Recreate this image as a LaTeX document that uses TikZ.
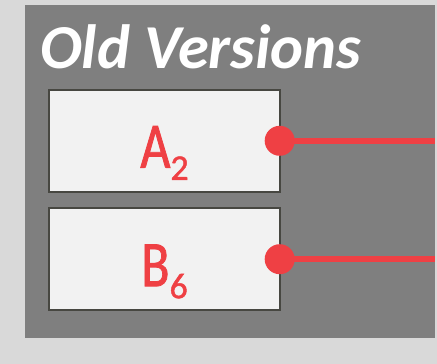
\documentclass[tikz,border=0pt]{standalone}
\usepackage{fontspec}
\setmainfont{Carlito}
\newfontfamily\verfont[FakeStretch=0.8,FakeBold=1.2]{Carlito}
\newfontfamily\subfont[FakeBold=1.2]{Carlito}
\usepackage{tikz}

\definecolor{bggray}{HTML}{D9D9D9}
\definecolor{panelgray}{HTML}{7F7F7F}
\definecolor{boxfill}{HTML}{F2F2F2}
\definecolor{boxline}{HTML}{474741}
\definecolor{vred}{HTML}{EF4044}

\begin{document}
\begin{tikzpicture}[x=1pt,y=-1pt,every node/.style={inner sep=0pt,outer sep=0pt},
	panel/.style={fill=panelgray,minimum width=410pt,minimum height=332.5pt},
	verbox/.style={draw=boxline,line width=2.2pt,fill=boxfill,minimum width=230.4pt,minimum height=101.7pt},
	verlabel/.style={vred,anchor=base},
	ptr/.style={vred,line width=5.5pt}]
	\fill[bggray] (0,0) rectangle (437,364);
	\useasboundingbox (0,0) rectangle (437,364);

	\node[panel] (panel) at (230,171.25) {};
	\node[white,anchor=base west] (title) at (40,68.5)
		{\fontsize{62.5}{62.5}\selectfont\bfseries\itshape Old Versions};

%	boxes for the two old versions
	\node[verbox] (verA) at (164.5,140.8) {};
	\node[verbox] (verB) at (164.5,259.2) {};
	\node[verlabel] (labA) at ([yshift=-27pt]verA.center)
		{{\verfont\fontsize{65}{65}\selectfont A}\raisebox{-12pt}{\subfont\fontsize{36}{36}\selectfont 2}};
	\node[verlabel] (labB) at ([yshift=-27pt]verB.center)
		{{\verfont\fontsize{65}{65}\selectfont B}\raisebox{-12pt}{\subfont\fontsize{36}{36}\selectfont 6}};

	\coordinate (dotA) at (verA.east);
	\coordinate (dotB) at (verB.east);
	\coordinate (endA) at (dotA -| panel.east);
	\coordinate (endB) at (dotB -| panel.east);

	\draw[ptr] (dotA) -- (endA);
	\draw[ptr] (dotB) -- (endB);
	\fill[vred] (dotA) circle (15);
	\fill[vred] (dotB) circle (15);
\end{tikzpicture}
\end{document}
